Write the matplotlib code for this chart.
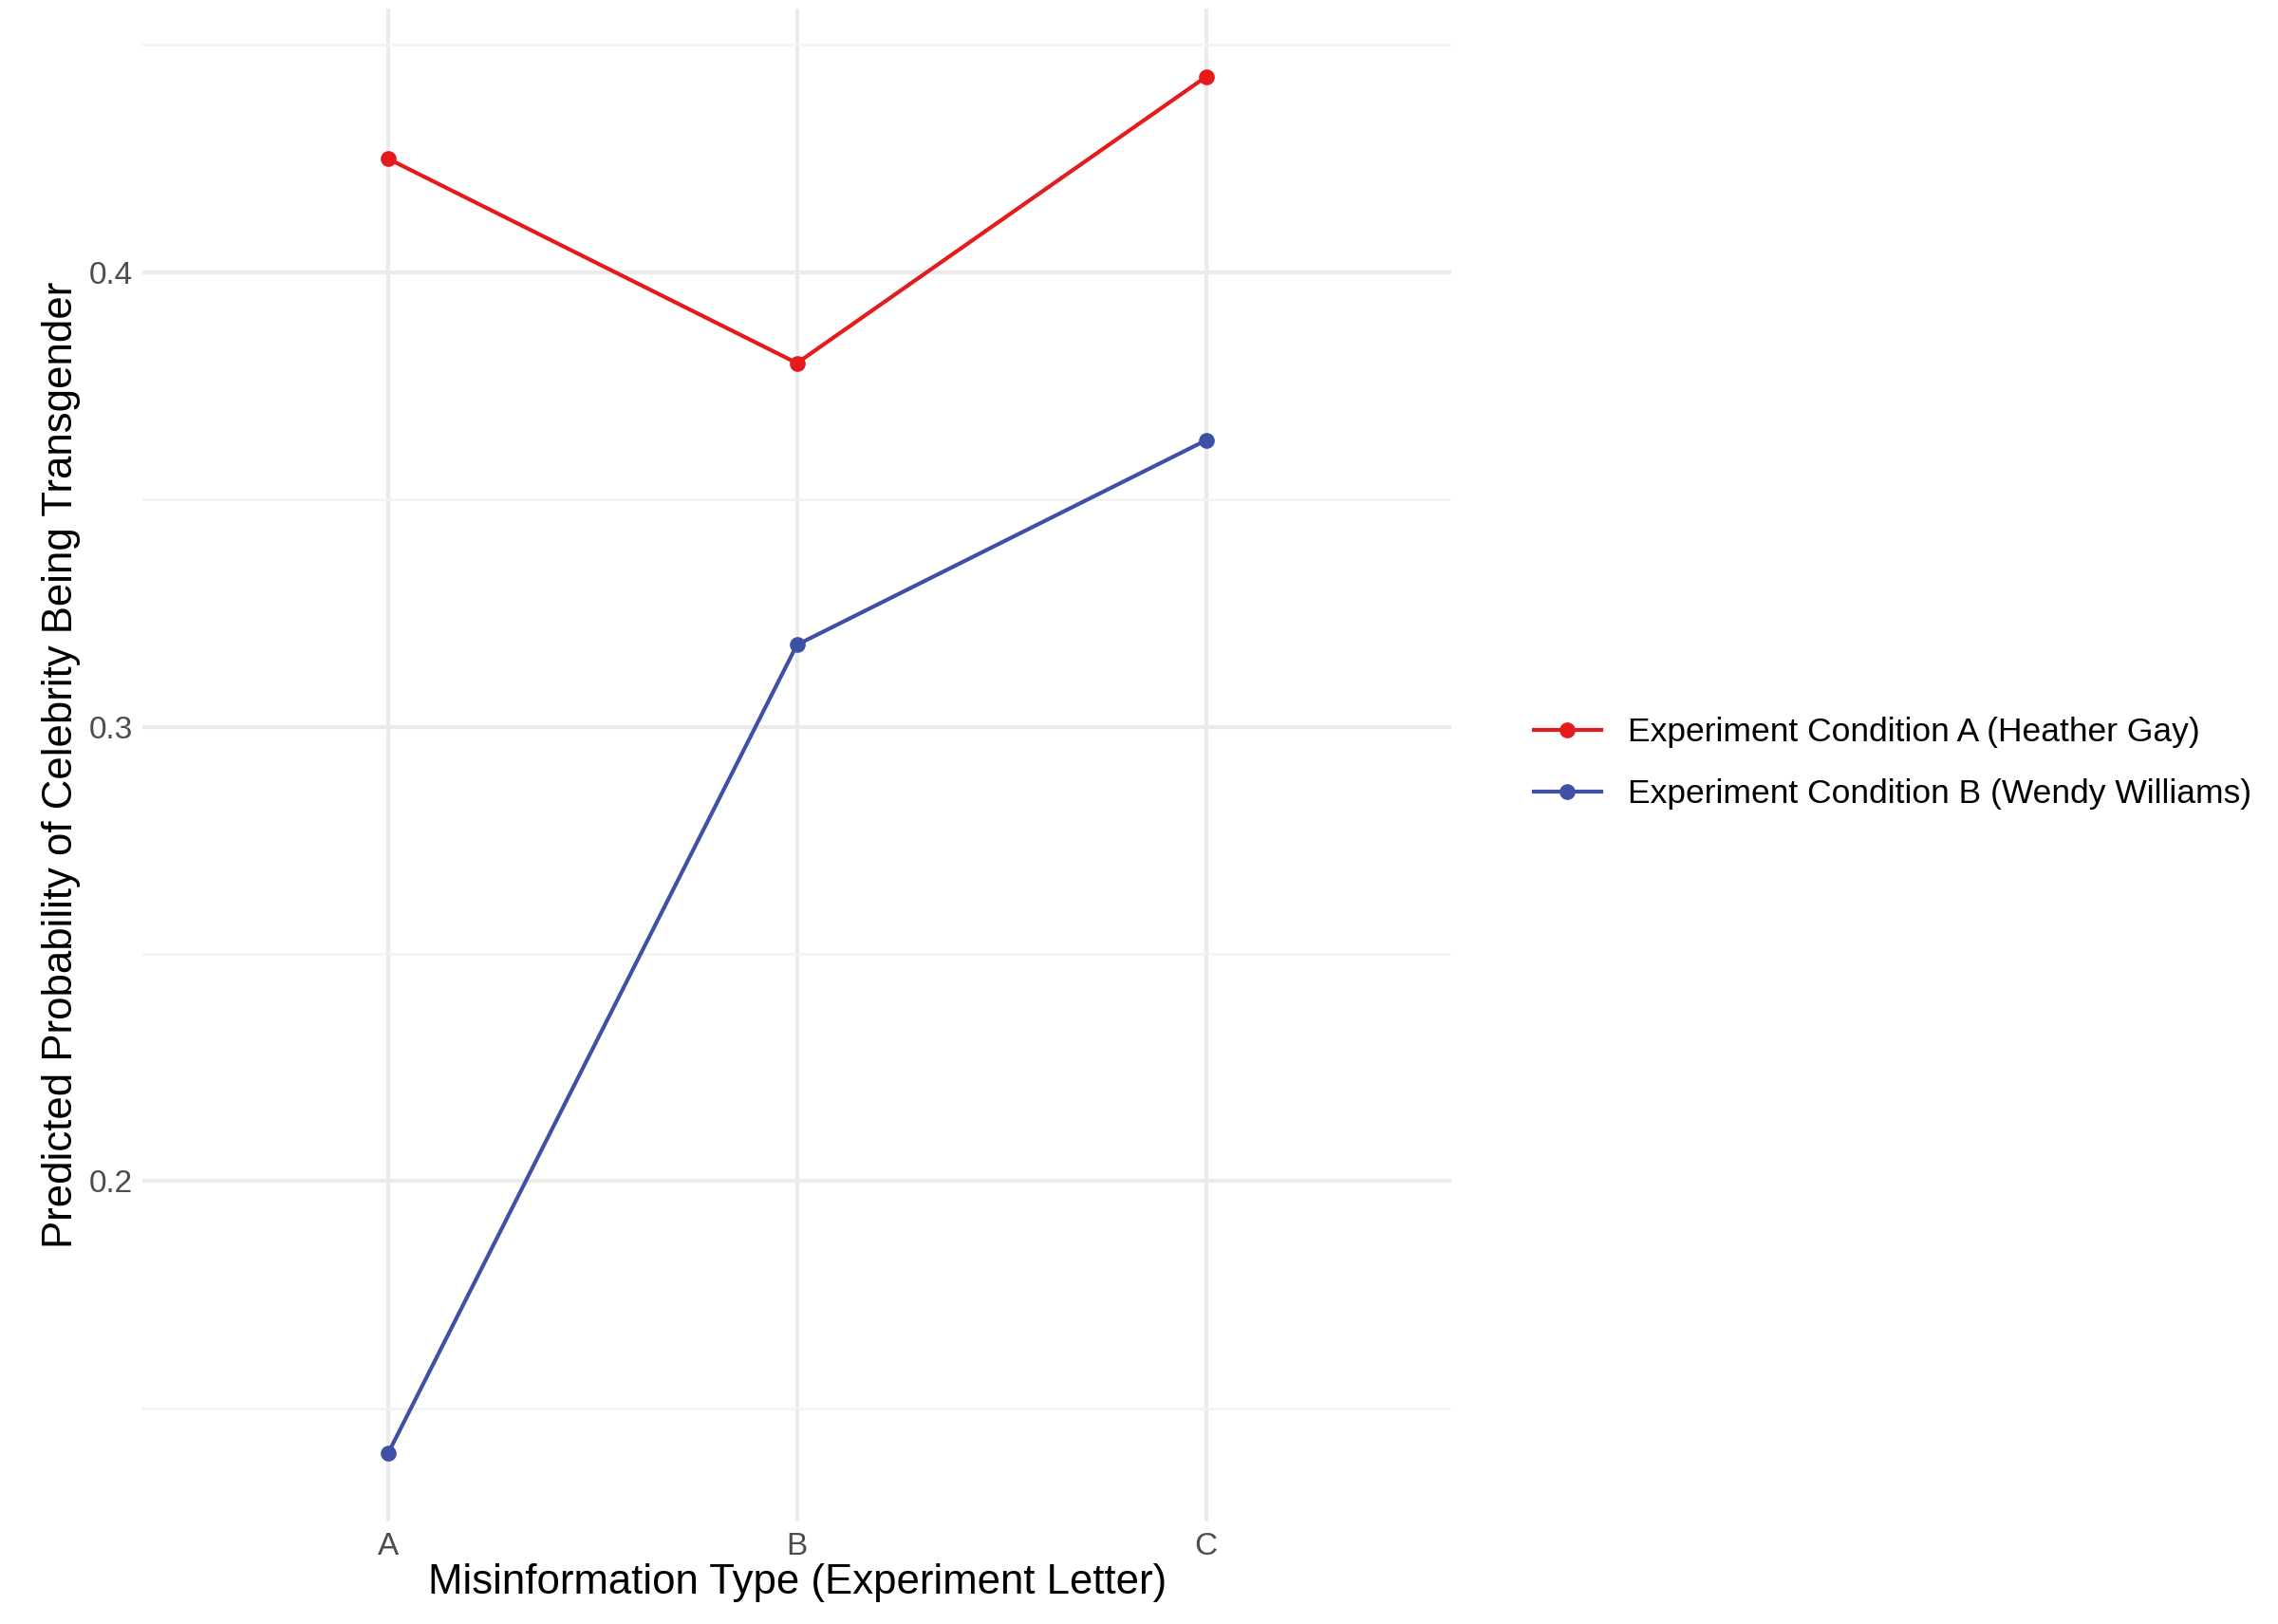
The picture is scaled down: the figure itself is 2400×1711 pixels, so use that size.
import matplotlib
matplotlib.use("Agg")
import matplotlib.pyplot as plt

categories = ["A", "B", "C"]
cond_a = [0.425, 0.380, 0.443]
cond_b = [0.140, 0.318, 0.363]
labels = ["Experiment Condition A (Heather Gay)", "Experiment Condition B (Wendy Williams)"]
colors = ["#E41A1C", "#3F51A5"]

plt.rcParams['font.family'] = ['Liberation Sans', 'DejaVu Sans']
fig = plt.figure(figsize=(16, 11.407), dpi=150)
ax = fig.add_axes([0.0626, 0.063, 0.5745, 0.9316])
x = list(range(len(categories)))
for ys, lab, c in zip([cond_a, cond_b], labels, colors):
    ax.plot(x, ys, color=c, lw=2, marker='o', ms=7, label=lab, zorder=3)
ax.set_xlim(-0.6, 2.6)
ax.set_ylim(0.125, 0.458)
ax.set_xticks(x)
ax.set_xticklabels(categories)
ax.set_yticks([0.2, 0.3, 0.4])
ax.set_yticklabels(["0.2", "0.3", "0.4"])
ax.set_yticks([0.15, 0.25, 0.35, 0.45], minor=True)
ax.grid(True, which='major', color='#EBEBEB', lw=2)
ax.grid(True, which='minor', axis='y', color='#F3F3F3', lw=1.2)
ax.tick_params(which='both', length=0, labelsize=16, colors='#4D4D4D', pad=5)
for s in ax.spines.values():
    s.set_visible(False)
ax.set_xlabel("Misinformation Type (Experiment Letter)", fontsize=21, labelpad=1)
ax.set_ylabel("Predicted Probability of Celebrity Being Transgender", fontsize=21, labelpad=4)
fig.legend(loc='center left', bbox_to_anchor=(0.66, 0.53), frameon=False, fontsize=17,
           handlelength=2.0, labelspacing=0.9)
fig.savefig("out.png", dpi=150, facecolor='white')
